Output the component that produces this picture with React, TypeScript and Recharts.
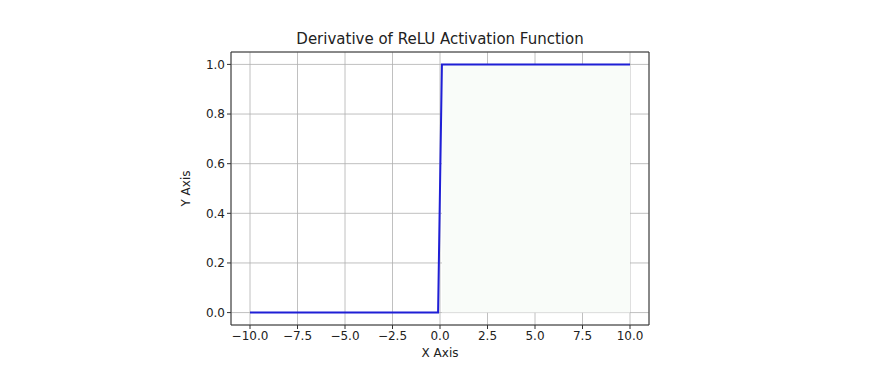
import React from "react";
import {
  LineChart,
  Line,
  XAxis,
  YAxis,
  CartesianGrid,
  ReferenceArea,
  Label,
} from "recharts";

const xValues = [-10, -0.101, 0.101, 10];
const yValues = [0, 0, 1, 1];
const xTicks = [-10, -7.5, -5, -2.5, 0, 2.5, 5, 7.5, 10];
const yTicks = [0, 0.2, 0.4, 0.6, 0.8, 1.0];
const title = "Derivative of ReLU Activation Function";

const data = xValues.map((x, i) => ({ x, y: yValues[i] }));

const fmt = (v: number) => v.toFixed(1).replace("-", "\u2212");

const FONT = "DejaVu Sans, sans-serif";

export default function App() {
  const W = 876;
  const H = 378;
  const yAxisW = 60;
  const xAxisH = 40;
  return (
    <div style={{ position: "absolute", left: 0, top: 0, width: W, height: H, background: "#fff" }}>
      <div
        style={{
          position: "absolute",
          left: 231,
          width: 418,
          top: 30,
          textAlign: "center",
          fontFamily: FONT,
          fontSize: 15,
          color: "#222",
          lineHeight: "18px",
        }}
      >
        {title}
      </div>
      <LineChart
        width={W}
        height={H}
        data={data}
        margin={{ top: 52, right: 227, left: 231 - yAxisW, bottom: 53 - xAxisH }}
      >
        <ReferenceArea x1={0.101} x2={10} y1={0} y2={1} fill="#f9fcf9" fillOpacity={1} stroke="none" ifOverflow="visible" />
        <CartesianGrid stroke="#b0b0b0" strokeWidth={0.8} />
        <XAxis
          type="number"
          dataKey="x"
          domain={[-11, 11]}
          ticks={xTicks}
          tickFormatter={fmt}
          allowDataOverflow
          height={xAxisH}
          axisLine={false}
          tickLine={{ stroke: "#333" }}
          tickSize={4}
          tick={{ fontFamily: FONT, fontSize: 12, fill: "#222" }}
          interval={0}
        >
          <Label value="X Axis" position="insideBottom" offset={8} style={{ fontFamily: FONT, fontSize: 12, fill: "#222" }} />
        </XAxis>
        <YAxis
          type="number"
          domain={[-0.05, 1.05]}
          ticks={yTicks}
          tickFormatter={fmt}
          allowDataOverflow
          width={yAxisW}
          axisLine={false}
          tickLine={{ stroke: "#333" }}
          tickSize={4}
          tick={{ fontFamily: FONT, fontSize: 12, fill: "#222" }}
          interval={0}
        >
          <Label value="Y Axis" angle={-90} position="insideLeft" offset={15} style={{ fontFamily: FONT, fontSize: 12, fill: "#222", textAnchor: "middle" }} />
        </YAxis>
        <ReferenceArea x1={-11} x2={11} y1={-0.05} y2={1.05} fill="none" stroke="#333" strokeWidth={1} ifOverflow="visible" />
        <Line
          type="linear"
          dataKey="y"
          stroke="#1f1fd6"
          strokeWidth={2}
          dot={false}
          isAnimationActive={false}
        />
      </LineChart>
    </div>
  );
}
